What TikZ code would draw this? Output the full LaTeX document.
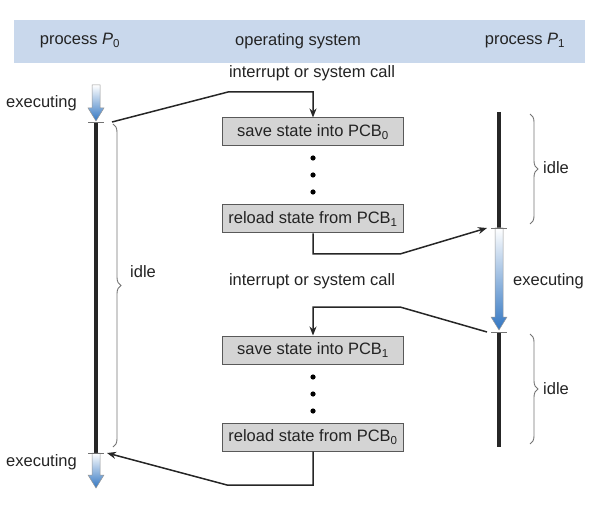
\documentclass[tikz,border=0pt]{standalone}
\usepackage{fontspec}
\setmainfont{Liberation Sans}
\usetikzlibrary{arrows.meta,decorations.pathreplacing}

\definecolor{bandblue}{RGB}{201,216,236}
\definecolor{boxgray}{RGB}{212,212,212}
\definecolor{execblue}{RGB}{50,118,194}
\definecolor{txtgray}{RGB}{35,35,35}

\tikzset{
  lbl/.style={text=txtgray, inner sep=0pt, font=\fontsize{16.5}{19}\selectfont},
  stepbox/.style={lbl, draw=black!65, fill=boxgray, line width=1pt,
    minimum width=181pt, minimum height=28pt},
  conn/.style={line width=1.5pt, black!85, -{Stealth[length=9pt,width=7pt]}},
  idlebrace/.style={decorate, decoration={brace, amplitude=8pt},
    draw=black!55, line width=0.9pt},
  runline/.style={line width=3.2pt, black!85},
  tick/.style={line width=0.7pt, black!55},
}

% blue "executing" arrow: x, top y, tip y
\newcommand{\execarrow}[3]{%
  \shade[top color=white, bottom color=execblue, draw=black!40, line width=0.5pt]
    (#1-4,#2) -- (#1+4,#2) -- (#1+4,#3-13) -- (#1+8,#3-13) -- (#1,#3)
    -- (#1-8,#3-13) -- (#1-4,#3-13) -- cycle;}

\begin{document}
\begin{tikzpicture}[x=1pt,y=-1pt]
\useasboundingbox (0,0) rectangle (599,518);

% header
\fill[bandblue] (14,20) rectangle (585,63);
\node[lbl] (hp0) at (80,41) {process {\itshape P}\textsubscript{0}};
\node[lbl] (hos) at (298,41) {operating system};
\node[lbl] (hp1) at (525,41) {process {\itshape P}\textsubscript{1}};

% operating system
\node[lbl] (irq1) at (312,73) {interrupt or system call};
\node[lbl] (irq2) at (312,281) {interrupt or system call};
\node[stepbox] (box1) at (313,132) {save state into PCB\textsubscript{0}};
\node[stepbox] (box2) at (313,219) {reload state from PCB\textsubscript{1}};
\node[stepbox] (box3) at (313,350) {save state into PCB\textsubscript{1}};
\node[stepbox] (box4) at (313,437) {reload state from PCB\textsubscript{0}};
\foreach \y in {158,175,192,377,394,411}
  \fill (313,\y) circle (2.6);

% process P0
\coordinate (p0top) at (96,122);
\coordinate (p0bot) at (96,453);
\execarrow{96}{85}{121}
\draw[runline] (p0top) -- (p0bot);
\execarrow{96}{453}{488}
\draw[tick] (88,122) -- (104,122);
\draw[tick] (88,453) -- (104,453);
\node[lbl, anchor=east] (ex0a) at (77,103) {executing};
\node[lbl, anchor=east] (ex0b) at (77,462) {executing};
\draw[idlebrace] (113,124) -- (113,447);
\node[lbl, anchor=west] (idle0) at (130,272) {idle};

% process P1
\coordinate (p1top) at (499,112);
\coordinate (p1mid) at (499,228);
\coordinate (p1low) at (499,332);
\coordinate (p1bot) at (499,447);
\draw[runline] (p1top) -- (p1mid);
\execarrow{499}{228}{330}
\draw[runline] (p1low) -- (p1bot);
\draw[tick] (491,228) -- (507,228);
\draw[tick] (491,332) -- (507,332);
\node[lbl, anchor=west] (ex1) at (513,281) {executing};
\draw[idlebrace] (530,114) -- (530,224);
\node[lbl, anchor=west] (idle1a) at (543,168) {idle};
\draw[idlebrace] (530,334) -- (530,444);
\node[lbl, anchor=west] (idle1b) at (543,389) {idle};

% switches
\coordinate (c0out) at (112,122);
\coordinate (c1in) at (487,228);
\coordinate (c1out) at (487,332);
\coordinate (c0in) at (107,453);
\draw[conn] (c0out) -- (228,92) -| (box1.north);
\draw[conn] (box2.south) |- (400,254) -- (c1in);
\draw[conn] (c1out) -- (400,307) -| (box3.north);
\draw[conn] (box4.south) |- (227,485) -- (c0in);
\end{tikzpicture}
\end{document}
